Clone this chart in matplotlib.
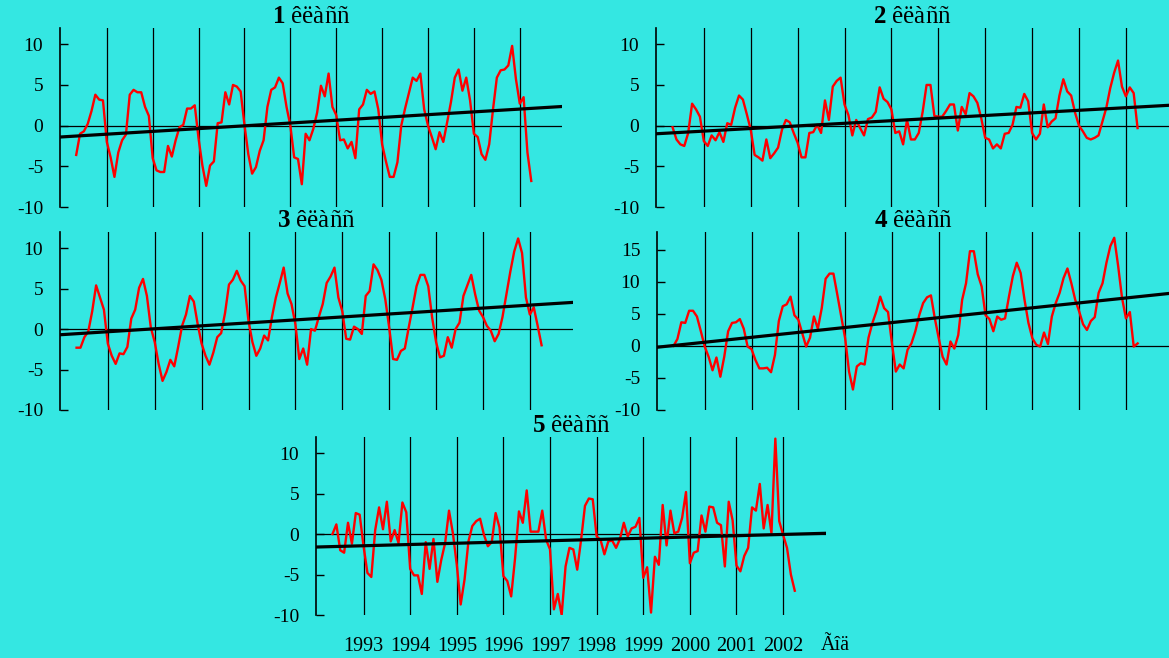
import numpy as np
import matplotlib
matplotlib.use("Agg")
from matplotlib import pyplot as plt

# monthly values, May 1992 - April 2002
class1 = [-3.6, -1.0, -0.7, 0.2, 1.8, 3.8, 3.2, 3.1, -2.0, -3.9, -6.3, -3.3,
          -1.8, -1.1, 3.8, 4.4, 4.1, 4.1, 2.3, 1.2, -4.0, -5.5, -5.7, -5.7,
          -2.5, -3.8, -1.8, -0.2, 0.1, 2.1, 2.1, 2.5, -1.6, -4.9, -7.4, -4.9,
          -4.4, 0.3, 0.4, 4.1, 2.6, 5.0, 4.8, 4.2, 0.1, -3.5, -5.9, -5.1,
          -3.1, -1.8, 2.3, 4.4, 4.7, 5.9, 5.2, 2.3, 0.0, -3.9, -4.1, -7.2,
          -1.0, -1.8, -0.4, 1.6, 4.9, 3.6, 6.4, 2.3, 1.3, -1.8, -1.7, -2.8,
          -2.0, -4.0, 2.0, 2.6, 4.4, 3.9, 4.2, 2.0, -2.3, -4.4, -6.3, -6.3,
          -4.5, 0.0, 2.1, 4.0, 5.9, 5.5, 6.4, 2.0, 0.0, -1.4, -2.9, -0.8,
          -2.0, 0.4, 2.9, 5.9, 6.9, 4.3, 5.9, 3.1, -1.0, -1.4, -3.5, -4.2,
          -2.3, 2.0, 5.9, 6.8, 6.9, 7.4, 9.8, 5.7, 2.7, 3.5, -3.3, -6.8]

class2 = [-0.2, -1.7, -2.3, -2.5, -0.9, 2.7, 2.0, 1.1, -1.9, -2.5, -1.2, -1.8,
          -0.8, -2.0, 0.3, 0.1, 2.2, 3.7, 3.2, 1.4, -0.5, -3.6, -3.9, -4.3,
          -1.7, -4.0, -3.4, -2.7, -0.5, 0.7, 0.4, -0.9, -2.1, -3.9, -3.9, -0.9,
          -0.8, 0.1, -0.9, 3.1, 0.7, 4.8, 5.5, 5.9, 2.6, 1.3, -1.2, 0.7,
          -0.3, -1.2, 0.8, 1.0, 1.7, 4.7, 3.3, 2.9, 2.0, -0.9, -0.7, -2.3,
          0.7, -1.7, -1.7, -0.9, 1.7, 5.0, 5.0, 1.2, 1.1, 1.1, 1.8, 2.6,
          2.6, -0.6, 2.3, 1.4, 4.0, 3.6, 2.8, 0.9, -1.5, -1.7, -2.8, -2.3,
          -2.8, -1.0, -0.9, 0.1, 2.3, 2.2, 3.9, 3.0, -0.9, -1.7, -1.0, 2.6,
          -0.2, 0.5, 0.9, 3.7, 5.7, 4.2, 3.7, 1.6, 0.0, -0.7, -1.5, -1.7,
          -1.5, -1.2, 0.5, 2.2, 4.6, 6.5, 8.0, 4.8, 3.6, 4.7, 4.0, -0.3]

class3 = [-2.3, -2.3, -1.0, -0.3, 2.2, 5.4, 3.9, 2.4, -1.8, -3.3, -4.3, -3.0,
          -3.1, -2.2, 1.3, 2.4, 5.1, 6.2, 4.1, 0.2, -1.6, -4.3, -6.4, -5.3,
          -3.8, -4.6, -2.2, 0.4, 1.8, 4.1, 3.4, 0.6, -1.8, -3.3, -4.4, -2.9,
          -1.0, -0.5, 2.0, 5.5, 6.1, 7.2, 6.0, 5.3, 1.0, -1.6, -3.3, -2.4,
          -0.8, -1.4, 1.5, 3.9, 5.7, 7.6, 4.4, 3.1, 0.6, -3.7, -2.4, -4.4,
          0.0, -0.2, 1.5, 3.1, 5.7, 6.5, 7.6, 3.9, 2.2, -1.2, -1.3, 0.3,
          0.0, -0.6, 4.1, 4.7, 8.0, 7.3, 6.1, 3.7, 0.2, -3.7, -3.8, -2.7,
          -2.4, 0.2, 2.7, 5.3, 6.7, 6.7, 5.3, 1.4, -1.6, -3.5, -3.3, -1.0,
          -2.3, 0.0, 0.8, 4.1, 5.4, 6.7, 4.3, 2.3, 1.5, 0.4, -0.2, -1.5,
          -0.6, 1.5, 4.3, 7.1, 9.6, 11.2, 9.4, 3.9, 1.8, 2.7, 0.4, -2.0]

class4 = [0.0, 1.1, 3.7, 3.6, 5.5, 5.5, 4.6, 2.3, -0.1, -1.7, -3.8, -1.8,
          -4.8, -1.7, 2.3, 3.6, 3.7, 4.2, 2.7, -0.1, -0.5, -2.2, -3.5, -3.5,
          -3.4, -4.1, -1.4, 3.9, 6.2, 6.5, 7.7, 4.8, 4.1, 2.0, -0.1, 1.3,
          4.6, 2.7, 5.9, 10.5, 11.3, 11.3, 8.0, 4.6, 1.2, -4.0, -6.8, -3.2,
          -2.7, -2.9, 1.3, 3.6, 5.4, 7.7, 5.9, 5.3, 0.4, -4.0, -2.9, -3.5,
          -0.6, 0.4, 2.3, 4.8, 6.7, 7.6, 7.9, 4.3, 1.2, -1.7, -2.9, 0.7,
          -0.4, 1.7, 7.2, 9.8, 14.8, 14.8, 11.2, 9.3, 4.8, 4.2, 2.3, 4.6,
          4.1, 4.3, 7.7, 10.9, 13.0, 11.4, 7.2, 3.6, 1.2, 0.2, -0.1, 2.1,
          0.3, 4.6, 6.7, 8.3, 10.6, 12.1, 9.8, 7.2, 5.4, 3.4, 2.5, 3.9,
          4.5, 8.3, 9.8, 13.0, 15.6, 16.9, 12.5, 7.5, 4.3, 5.3, -0.1, 0.4]

class5 = [0.0, 1.2, -2.0, -2.3, 1.4, -1.2, 2.6, 2.4, -1.5, -4.8, -5.3, 0.5,
          3.3, 0.6, 4.0, -0.9, 0.5, -1.1, 3.9, 2.7, -4.3, -5.1, -5.1, -7.4,
          -1.0, -4.3, -0.6, -5.9, -3.2, -1.1, 2.9, 0.1, -3.8, -8.7, -5.6, -0.9,
          1.0, 1.6, 1.9, -0.1, -1.5, -1.0, 2.6, 0.8, -5.2, -5.8, -7.7, -3.0,
          2.8, 1.4, 5.4, 0.3, 0.3, 0.3, 2.9, -0.7, -1.9, -9.3, -7.4, -10.0,
          -4.0, -1.7, -1.9, -4.4, -0.7, 3.5, 4.4, 4.3, -0.3, -0.7, -2.5, -0.9,
          -0.8, -1.7, -0.6, 1.4, -0.3, 0.7, 0.9, 2.0, -5.4, -4.1, -9.7, -2.8,
          -3.8, 3.6, -1.4, 2.9, 0.1, 0.3, 2.0, 5.2, -3.6, -2.3, -2.1, 2.3,
          0.3, 3.4, 3.3, 1.4, 1.1, -4.0, 4.0, 1.7, -3.9, -4.6, -2.7, -1.7,
          3.3, 2.9, 6.2, 0.7, 3.6, 0.1, 11.8, 1.6, -0.1, -1.7, -5.0, -7.0]

series = [class1, class2, class3, class4, class5]
titles = ["1", "2", "3", "4", "5"]

# linear trend: value at left and right edge of the panel
trend_start = [-1.4, -1.0, -0.7, -0.2, -1.6]
trend_end = [2.35, 2.5, 3.3, 8.2, 0.1]

years = list(range(1993, 2003))
x_left, x_right = 1991.98, 2002.92

t = 1992 + (4 + np.arange(120)) / 12.0

bg = '#34e7e2'
plt.rcParams['font.family'] = 'Liberation Serif'
plt.rcParams['mathtext.fontset'] = 'custom'
plt.rcParams['mathtext.rm'] = 'Liberation Serif'
plt.rcParams['mathtext.bf'] = 'Liberation Serif:bold'
plt.rcParams['axes.unicode_minus'] = False

W, H = 1169, 658
fig = plt.figure(figsize=(W / 100, H / 100), dpi=100, facecolor=bg)

# panel boxes in pixels: left, right, top, bottom
boxes = [(60, 562, 28, 207), (656, 1169, 28, 207),
         (60, 573, 232, 410), (657, 1169, 232, 410),
         (316, 826, 437, 615)]

for i, (vals, (l, r, tp, b)) in enumerate(zip(series, boxes)):
    ax = fig.add_axes([l / W, 1 - b / H, (r - l) / W, (b - tp) / H])
    ax.set_facecolor(bg)
    for s in ['top', 'right', 'bottom']:
        ax.spines[s].set_visible(False)
    ax.spines['left'].set_linewidth(1.2)

    for y in years:
        ax.axvline(y, color='black', lw=0.9)
    ax.axhline(0, color='black', lw=0.9)

    ax.plot(t, vals, color='#ff0000', lw=1.7, zorder=3)
    ax.plot([x_left, x_right], [trend_start[i], trend_end[i]], color='black', lw=2.3, zorder=4)

    ax.set_xlim(x_left, x_right)
    if i == 3:
        ax.set_ylim(-10, 17.8)
        ax.set_yticks([-10, -5, 0, 5, 10, 15])
    else:
        ax.set_ylim(-10, 12)
        ax.set_yticks([-10, -5, 0, 5, 10])
    ax.tick_params(axis='y', direction='in', length=6, width=1, pad=12, labelsize=14)

    if i == 4:
        ax.set_xticks(years)
        ax.set_xticklabels([str(y) for y in years])
        ax.tick_params(axis='x', length=0, pad=16, labelsize=14.5)
        ax.text(0.99, -0.17, "Ãîä", transform=ax.transAxes, ha='left', va='center', fontsize=14.5)
    else:
        ax.set_xticks([])

    ax.set_title(r"$\mathbf{" + titles[i] + "}$ êëàññ", fontsize=18, pad=1)

fig.savefig("out.png", dpi=100, facecolor=bg)
